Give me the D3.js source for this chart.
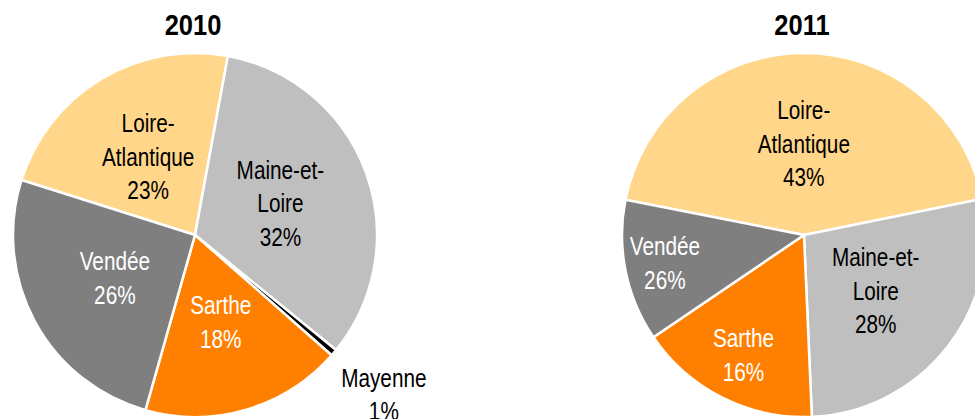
<!DOCTYPE html>
<html>
<head>
<meta charset="utf-8">
<script src="https://cdn.jsdelivr.net/npm/d3@7"></script>
<style>
  body { margin: 0; background: #fff; }
  svg text { font-family: "Liberation Sans", Arial, sans-serif; }
</style>
</head>
<body>
<div id="chart"></div>
<script>
/* DATA */
const departments = ["Loire-Atlantique", "Maine-et-Loire", "Mayenne", "Sarthe", "Vendée"];
// label text as printed, split on lines
const labelLines = [["Loire-", "Atlantique"], ["Maine-et-", "Loire"], ["Mayenne"], ["Sarthe"], ["Vendée"]];
// slice sizes (share, %)
const values2010 = [23.0, 33.0, 0.6, 17.9, 25.5];
const values2011 = [43.7, 27.5, 0, 16.2, 12.6];
// percentages as printed on the chart
const pctText2010 = ["23%", "32%", "1%", "18%", "26%"];
const pctText2011 = ["43%", "28%", "", "16%", "26%"];
const years = ["2010", "2011"];

/* CONSTANTS */
const width = 975,
  height = 419,
  radius = 182,
  lineH = 33.5,
  narrow = 0.83; // horizontal squeeze to imitate the condensed face

const colors = ["#FFD68A", "#BFBFBF", "#000000", "#FF8000", "#7F7F7F"];
const textColors = ["#000", "#000", "#000", "#fff", "#fff"];

const pies = [
  { year: years[0], values: values2010, pct: pctText2010, cx: 195, cy: 235,
    start: -72.4, labelR: [0.5, 0.5, 1.36, 0.5, 0.5] },
  { year: years[1], values: values2011, pct: pctText2011, cx: 804, cy: 235,
    start: -78.8, labelR: [0.5, 0.5, 0.5, 0.74, 0.78] }
];

const svg = d3.select("#chart")
  .append("svg")
  .attr("width", width)
  .attr("height", height);

const arc = d3.arc().innerRadius(0).outerRadius(radius);

pies.forEach(p => {
  const a0 = p.start * Math.PI / 180;
  const pie = d3.pie().sort(null).value(d => d).startAngle(a0).endAngle(a0 + 2 * Math.PI);
  const arcs = pie(p.values);

  const g = svg.append("g").attr("transform", `translate(${p.cx},${p.cy})`);

  g.selectAll("path")
    .data(arcs.filter(d => d.data > 0))
    .join("path")
    .attr("d", arc)
    .attr("fill", d => colors[d.index])
    .attr("stroke", "#fff")
    .attr("stroke-width", 2.5)
    .attr("stroke-linejoin", "round");

  // labels
  const labels = g.selectAll("g.label")
    .data(arcs.filter(d => d.data > 0))
    .join("g")
    .attr("class", "label")
    .attr("transform", d => {
      const mid = (d.startAngle + d.endAngle) / 2;
      const r = radius * p.labelR[d.index];
      return `translate(${Math.sin(mid) * r},${-Math.cos(mid) * r}) scale(${narrow},1)`;
    });

  labels.each(function(d) {
    const lines = labelLines[d.index].concat([p.pct[d.index]]);
    const n = lines.length;
    d3.select(this).selectAll("text")
      .data(lines)
      .join("text")
      .attr("text-anchor", "middle")
      .attr("dominant-baseline", "central")
      .attr("y", (t, i) => (i - (n - 1) / 2) * lineH)
      .attr("fill", textColors[d.index])
      .attr("font-size", 25)
      .text(t => t);
  });

  // title
  svg.append("text")
    .attr("transform", `translate(${p.cx - 2},25) scale(0.85,1)`)
    .attr("text-anchor", "middle")
    .attr("dominant-baseline", "central")
    .attr("font-size", 30)
    .attr("font-weight", "bold")
    .text(p.year);
});
</script>
</body>
</html>
